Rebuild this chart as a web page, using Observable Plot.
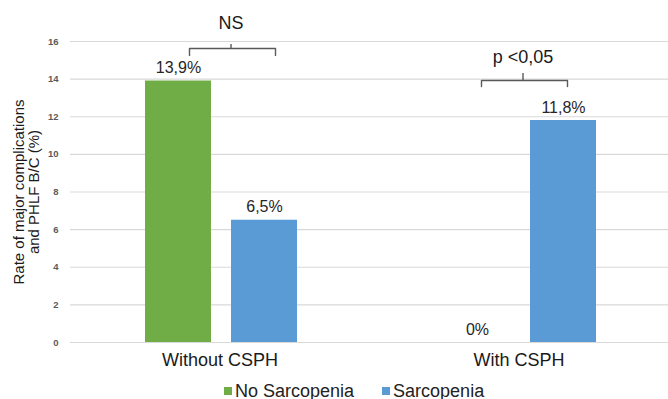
<!DOCTYPE html>
<html>
<head>
<meta charset="utf-8">
<script src="https://cdn.jsdelivr.net/npm/d3@7"></script>
<script src="https://cdn.jsdelivr.net/npm/@observablehq/plot@0.6"></script>
<style>
  html, body { margin: 0; padding: 0; background: #fff; }
  body { width: 668px; height: 399px; overflow: hidden; font-family: "Liberation Sans", Arial, sans-serif; }
  #legend { display: flex; align-items: center; padding-left: 224px; height: 20px; margin-top: 3px; font-size: 18px; color: #222; }
  #legend .item { display: flex; align-items: center; margin-right: 28px; }
  #legend .sw { width: 8px; height: 8px; margin-right: 3px; }
</style>
</head>
<body>
<div id="chart"></div>
<div id="legend"></div>
<script>
// ---- data ----
const groups = ["Without CSPH", "With CSPH"];
const series = ["No Sarcopenia", "Sarcopenia"];
const seriesColors = ["#70AD47", "#5B9BD5"];
const noSarcopeniaValues = [13.9, 0];
const sarcopeniaValues = [6.5, 11.8];
const yTicks = [0, 2, 4, 6, 8, 10, 12, 14, 16];
const yLabel = "Rate of major complications\nand PHLF B/C (%)";
const bracketGroups = ["Without CSPH", "With CSPH"];
const bracketLabels = ["NS", "p <0,05"];
const bracketLevels = [15.63, 13.93];   // horizontal line of the bracket (y units)
const bracketTips = [15.26, 13.61];     // ends of the bracket
const bracketTops = [15.84, 14.30];     // centre tick top
const bracketTextY = [16.96, 15.15];    // label position

// ---- build tables ----
const table = [];
groups.forEach((g, i) => {
  table.push({group: g, series: series[0], value: noSarcopeniaValues[i]});
  table.push({group: g, series: series[1], value: sarcopeniaValues[i]});
});
const fmt = v => (v === 0 ? "0" : v.toFixed(1).replace(".", ",")) + "%";

const bracketDx = [11, 4];
const bracketMarks = [];
bracketGroups.forEach((g, i) => {
  const pts = [
    {group: g, x: series[0], y: bracketTips[i]},
    {group: g, x: series[0], y: bracketLevels[i]},
    {group: g, x: series[1], y: bracketLevels[i]},
    {group: g, x: series[1], y: bracketTips[i]}
  ];
  bracketMarks.push(Plot.line(pts, {fx: "group", x: "x", y: "y", dx: bracketDx[i], stroke: "#5a5a5a", strokeWidth: 1.4}));
  bracketMarks.push(Plot.ruleX([{group: g, y1: bracketLevels[i], y2: bracketTops[i]}], {fx: "group", x: null, y1: "y1", y2: "y2", dx: bracketDx[i], stroke: "#5a5a5a", strokeWidth: 1.4}));
  bracketMarks.push(Plot.text([{group: g, y: bracketTextY[i], t: bracketLabels[i]}], {fx: "group", y: "y", text: "t", frameAnchor: "middle", dx: bracketDx[i], fontSize: 18, fill: "#1a1a1a"}));
});

const chart = Plot.plot({
  width: 668,
  height: 378,
  marginLeft: 70,
  marginRight: 0,
  marginTop: 41,
  marginBottom: 36,
  style: {fontFamily: "'Liberation Sans', Arial, sans-serif", background: "#fff"},
  fx: {domain: groups, padding: 0, label: null},
  x: {domain: series, paddingInner: 0.23, paddingOuter: 0.84, align: 0.51, axis: null},
  y: {domain: [0, 16], label: null},
  color: {domain: series, range: seriesColors},
  marks: [
    Plot.gridY(yTicks, {stroke: "#d9d9d9", strokeOpacity: 1, strokeWidth: 1.2}),
    Plot.axisY(yTicks, {tickSize: 0, tickPadding: 12, fontSize: 9.5, fontWeight: "bold", fill: "#5a5a5a", label: null}),
    Plot.axisY([], {tickSize: 0, label: yLabel, labelArrow: "none", labelAnchor: "center", labelOffset: 57, fontSize: 15, fill: "#1a1a1a"}),
    Plot.axisFx({anchor: "bottom", tickSize: 0, tickPadding: 11, fontSize: 18, fill: "#1a1a1a", label: null}),
    Plot.barY(table, {fx: "group", x: "series", y: "value", fill: "series"}),
    Plot.text(table, {fx: "group", x: "series", y: "value", text: d => fmt(d.value), dy: -13, fontSize: 16, fill: "#262626"}),
    ...bracketMarks
  ]
});
document.getElementById("chart").appendChild(chart);

// legend
const legend = document.getElementById("legend");
series.forEach((s, i) => {
  const item = document.createElement("div");
  item.className = "item";
  const sw = document.createElement("span");
  sw.className = "sw";
  sw.style.background = seriesColors[i];
  const t = document.createElement("span");
  t.textContent = s;
  item.appendChild(sw);
  item.appendChild(t);
  legend.appendChild(item);
});
</script>
</body>
</html>
